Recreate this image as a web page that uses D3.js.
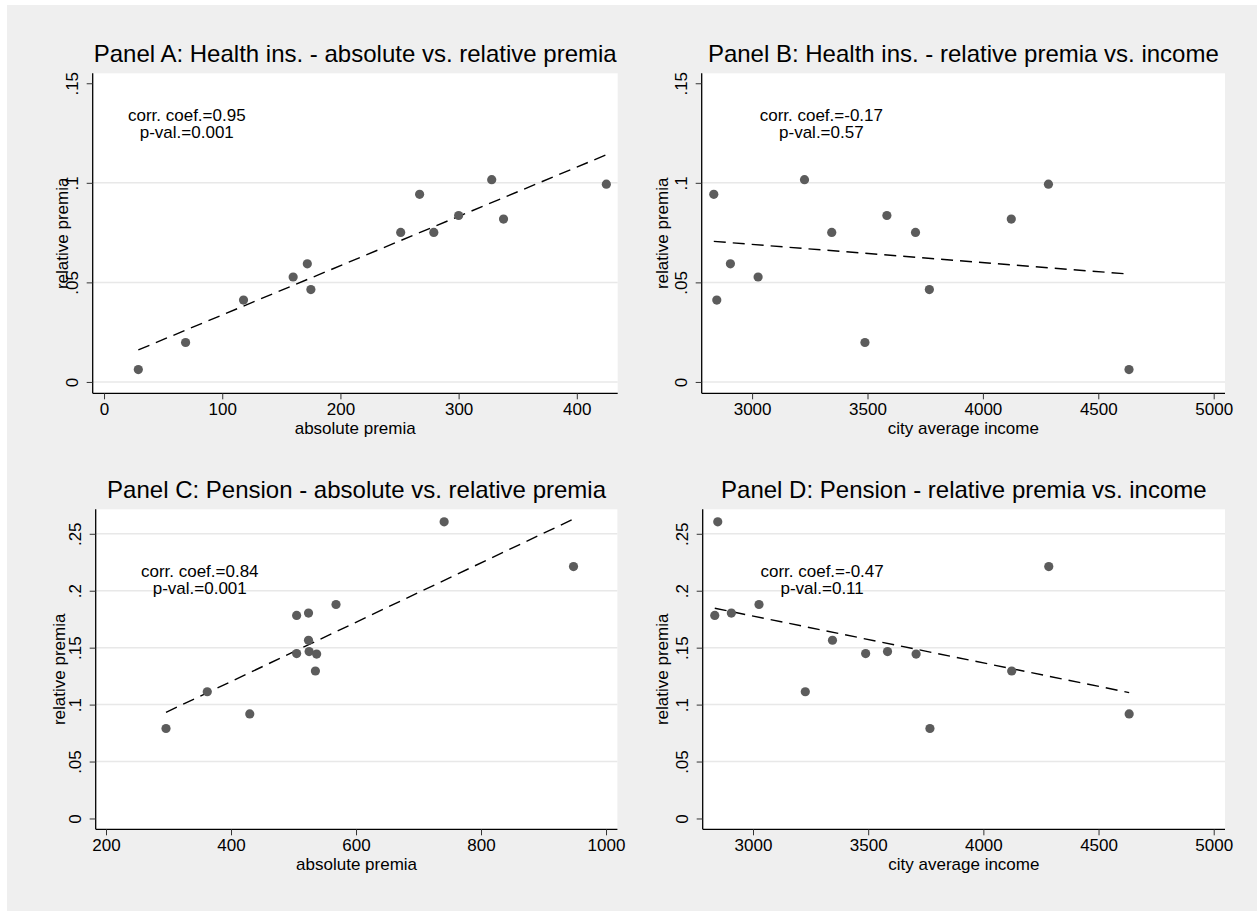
<!DOCTYPE html>
<html>
<head>
<meta charset="utf-8">
<script src="https://cdn.jsdelivr.net/npm/d3@7"></script>
<style>
body { margin: 0; background: #fff; }
text { font-family: "Liberation Sans", Arial, sans-serif; fill: #000; }
</style>
</head>
<body>
<script>
// one entry per city, sorted by city average income
const cityIncome = [2834, 2847, 2906, 3026, 3227, 3345, 3489, 3584, 3708, 3768, 4123, 4284, 4633];
const healthAbs  = [267, 118, 172, 160, 328, 251, 69, 300, 279, 175, 338, 425, 29];
const healthRel  = [0.0942, 0.0411, 0.0593, 0.0527, 0.1016, 0.0751, 0.0198, 0.0836, 0.0751, 0.0464, 0.0818, 0.0993, 0.0062];
const pensionAbs = [505, 741, 524, 568, 362, 524, 505, 525, 537, 296, 535, 948, 430];
const pensionRel = [0.1783, 0.2605, 0.1804, 0.1879, 0.1113, 0.1565, 0.1448, 0.1466, 0.1444, 0.0790, 0.1295, 0.2212, 0.0918];

// axis ticks
const healthAbsTicks  = [0, 100, 200, 300, 400];
const pensionAbsTicks = [200, 400, 600, 800, 1000];
const incomeTicks     = [3000, 3500, 4000, 4500, 5000];
const healthRelTicks  = [0, 0.05, 0.1, 0.15];
const pensionRelTicks = [0, 0.05, 0.1, 0.15, 0.2, 0.25];
const healthGrid  = [0, 0.05, 0.1];
const pensionGrid = [0.05, 0.1, 0.15, 0.2, 0.25];

const panelTitles = [
    "Panel A: Health ins. - absolute vs. relative premia",
    "Panel B: Health ins. - relative premia vs. income",
    "Panel C: Pension - absolute vs. relative premia",
    "Panel D: Pension - relative premia vs. income"
];
const corrLines = [
    ["corr. coef.=0.95", "p-val.=0.001"],
    ["corr. coef.=-0.17", "p-val.=0.57"],
    ["corr. coef.=0.84", "p-val.=0.001"],
    ["corr. coef.=-0.47", "p-val.=0.11"]
];
// where the text sits, in data units [x, y]
const corrAt = [[70, 0.13], [3300, 0.13], [350, 0.21], [3300, 0.21]];

const W = 1257, H = 911;

const svg = d3.select("body").append("svg")
    .attr("width", W)
    .attr("height", H);

svg.append("rect").attr("width", W).attr("height", H).attr("fill", "#fff");
svg.append("rect")
    .attr("x", 7).attr("y", 5)
    .attr("width", W - 7).attr("height", H - 5)
    .attr("fill", "#efefef");

function yLabel(v) {
    if (v === 0) return "0";
    return String(v).replace(/^0/, "");
}

function ols(xs, ys) {
    let mx = d3.mean(xs), my = d3.mean(ys);
    let sxy = d3.sum(xs, (x, i) => (x - mx) * (ys[i] - my));
    let sxx = d3.sum(xs, x => (x - mx) * (x - mx));
    let b = sxy / sxx;
    return { a: my - b * mx, b: b };
}

const panels = [
    { box: [92.7, 617.7, 73.3, 393.3], xs: healthAbs, ys: healthRel,
      xdom: [-9.6, 434.6], ydom: [-0.0057, 0.155],
      xticks: healthAbsTicks, yticks: healthRelTicks, grid: healthGrid,
      xtitle: "absolute premia", ytitleX: 63 },
    { box: [701.7, 1225, 73.3, 393.3], xs: cityIncome, ys: healthRel,
      xdom: [2781.6, 5049], ydom: [-0.0057, 0.155],
      xticks: incomeTicks, yticks: healthRelTicks, grid: healthGrid,
      xtitle: "city average income", ytitleX: 663 },
    { box: [95.7, 617.4, 509.3, 829.3], xs: pensionAbs, ys: pensionRel,
      xdom: [183.5, 1018.2], ydom: [-0.0095, 0.2715],
      xticks: pensionAbsTicks, yticks: pensionRelTicks, grid: pensionGrid,
      xtitle: "absolute premia", ytitleX: 60 },
    { box: [702.7, 1225, 509.3, 829.3], xs: cityIncome, ys: pensionRel,
      xdom: [2781.6, 5049], ydom: [-0.0095, 0.2715],
      xticks: incomeTicks, yticks: pensionRelTicks, grid: pensionGrid,
      xtitle: "city average income", ytitleX: 663 }
];

panels.forEach(function (p, k) {
    let [x0, x1, y0, y1] = p.box;
    let x = d3.scaleLinear().domain(p.xdom).range([x0, x1]);
    let y = d3.scaleLinear().domain(p.ydom).range([y1, y0]);

    let g = svg.append("g").attr("class", "panel");

    // plot region
    g.append("rect")
        .attr("x", x0).attr("y", y0)
        .attr("width", x1 - x0).attr("height", y1 - y0)
        .attr("fill", "#fff");

    g.selectAll(".grid")
        .data(p.grid)
        .enter()
        .append("line")
        .attr("class", "grid")
        .attr("x1", x0).attr("x2", x1)
        .attr("y1", d => y(d)).attr("y2", d => y(d))
        .attr("stroke", "#e8e8e8")
        .attr("stroke-width", 1.5);

    // axes
    let xAxis = g.append("g")
        .attr("transform", "translate(0," + y1 + ")")
        .call(d3.axisBottom(x).tickValues(p.xticks).tickSize(6).tickFormat(d3.format("d")));
    let yAxis = g.append("g")
        .attr("transform", "translate(" + x0 + ",0)")
        .call(d3.axisLeft(y).tickValues(p.yticks).tickSize(6).tickFormat(yLabel));

    [xAxis, yAxis].forEach(function (ax) {
        ax.select(".domain").attr("stroke", "#000").attr("stroke-width", 1.3);
        ax.selectAll(".tick line").attr("stroke", "#333").attr("stroke-width", 1);
        ax.selectAll("text").attr("font-size", 17).attr("font-family", null).attr("fill", "#000");
    });
    // axis lines only along the plot region
    xAxis.select(".domain").attr("d", "M" + x0 + ",0H" + x1);
    yAxis.select(".domain").attr("d", "M0," + y0 + "V" + y1);

    xAxis.selectAll(".tick text").attr("dy", null).attr("y", 22);
    yAxis.selectAll(".tick text")
        .attr("x", null).attr("dy", null)
        .attr("text-anchor", "middle")
        .attr("transform", "translate(-15,0) rotate(-90)");

    // axis titles
    g.append("text")
        .attr("x", (x0 + x1) / 2)
        .attr("y", y1 + 41)
        .attr("text-anchor", "middle")
        .attr("font-size", 17)
        .text(p.xtitle);
    g.append("text")
        .attr("transform", "translate(" + (p.ytitleX + 5) + "," + ((y0 + y1) / 2) + ") rotate(-90)")
        .attr("text-anchor", "middle")
        .attr("font-size", 17)
        .text("relative premia");

    // panel title
    g.append("text")
        .attr("x", (x0 + x1) / 2)
        .attr("y", y0 - 11)
        .attr("text-anchor", "middle")
        .attr("font-size", 24)
        .text(panelTitles[k]);

    // fitted line over the data range
    let fit = ols(p.xs, p.ys);
    let ext = d3.extent(p.xs);
    g.append("line")
        .attr("x1", x(ext[0])).attr("y1", y(fit.a + fit.b * ext[0]))
        .attr("x2", x(ext[1])).attr("y2", y(fit.a + fit.b * ext[1]))
        .attr("stroke", "#000")
        .attr("stroke-width", 1.4)
        .attr("stroke-dasharray", "12,7");

    // points
    g.selectAll(".pt")
        .data(p.xs.map((v, i) => [v, p.ys[i]]))
        .enter()
        .append("circle")
        .attr("class", "pt")
        .attr("cx", d => x(d[0]))
        .attr("cy", d => y(d[1]))
        .attr("r", 4.6)
        .attr("fill", "#5c5c5c");

    // correlation note
    let at = corrAt[k];
    g.append("text")
        .attr("x", x(at[0]))
        .attr("y", y(at[1]) - 2)
        .attr("text-anchor", "middle")
        .attr("font-size", 17)
        .selectAll("tspan")
        .data(corrLines[k])
        .enter()
        .append("tspan")
        .attr("x", x(at[0]))
        .attr("dy", (d, i) => i === 0 ? 0 : 17)
        .text(d => d);
});
</script>
</body>
</html>
